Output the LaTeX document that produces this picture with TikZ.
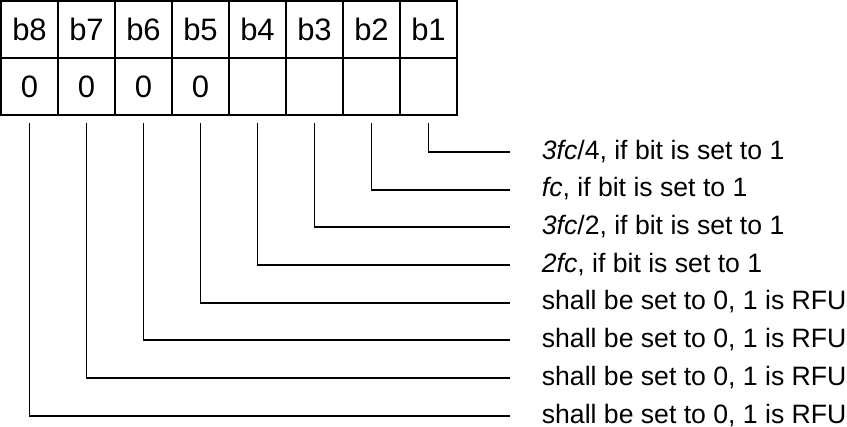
\documentclass[tikz,border=0pt]{standalone}
\usepackage{fontspec}
\setmainfont{Liberation Sans}
\usetikzlibrary{positioning}

\begin{document}
\begin{tikzpicture}[x=0.5pt, y=-0.5pt, node distance=28.5pt, line width=0.9pt,
  bit/.style={draw, minimum size=28.5pt, inner sep=0pt, outer sep=0pt, font=\fontsize{15.5}{18}\selectfont},
  meaning/.style={anchor=west, inner sep=0pt, text height=9.5pt, text depth=2.2pt, font=\fontsize{13.3}{16}\selectfont},
  tap/.style={shorten >=15.5pt, to path={([yshift=-4pt]\tikztostart.south) |- (\tikztotarget.west)}}]

  \useasboundingbox (0,0) rectangle (847,427);

  \node [bit] (b8) at (29.5,29.5) {b8};
  \node [bit] (b7) [right of= b8] {b7};
  \node [bit] (b6) [right of= b7] {b6};
  \node [bit] (b5) [right of= b6] {b5};
  \node [bit] (b4) [right of= b5] {b4};
  \node [bit] (b3) [right of= b4] {b3};
  \node [bit] (b2) [right of= b3] {b2};
  \node [bit] (b1) [right of= b2] {b1};

  \node [bit] (v8) [below of= b8] {0};
  \node [bit] (v7) [below of= b7] {0};
  \node [bit] (v6) [below of= b6] {0};
  \node [bit] (v5) [below of= b5] {0};
  \node [bit] (v4) [below of= b4] {};
  \node [bit] (v3) [below of= b3] {};
  \node [bit] (v2) [below of= b2] {};
  \node [bit] (v1) [below of= b1] {};

  \node [meaning] (m1) at (541,152)   {\textit{3fc}/4, if bit is set to 1};
  \node [meaning] (m2) at (541,189.7) {\textit{fc}, if bit is set to 1};
  \node [meaning] (m3) at (541,227.3) {\textit{3fc}/2, if bit is set to 1};
  \node [meaning] (m4) at (541,265)   {\textit{2fc}, if bit is set to 1};
  \node [meaning] (m5) at (541,302.7) {shall be set to 0, 1 is RFU};
  \node [meaning] (m6) at (541,340.3) {shall be set to 0, 1 is RFU};
  \node [meaning] (m7) at (541,378)   {shall be set to 0, 1 is RFU};
  \node [meaning] (m8) at (541,415.7) {shall be set to 0, 1 is RFU};

  \path
    (v1) edge [tap] (m1)
    (v2) edge [tap] (m2)
    (v3) edge [tap] (m3)
    (v4) edge [tap] (m4)
    (v5) edge [tap] (m5)
    (v6) edge [tap] (m6)
    (v7) edge [tap] (m7)
    (v8) edge [tap] (m8)
  ;

\end{tikzpicture}
\end{document}
